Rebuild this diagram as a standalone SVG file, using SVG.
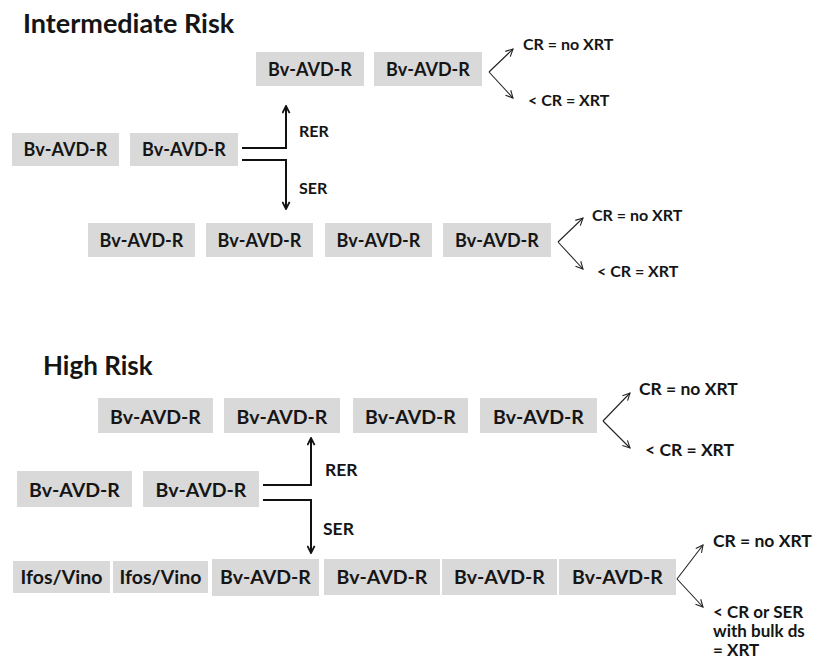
<svg xmlns="http://www.w3.org/2000/svg" width="815" height="666" viewBox="0 0 815 666">
<style>
text{font-family:Lato,"Open Sans","Liberation Sans",sans-serif;font-weight:bold;fill:#151515}
.box{fill:#d9d9d9}
.t{text-anchor:middle}
.mi{font-size:18px}
.hi{font-size:19.5px}
.lab{font-size:16px}
.labh{font-size:17.5px}
.ml{font-size:17px}
.title{font-size:27px}
.thin{fill:none;stroke:#222;stroke-width:1.1}
.thick{fill:none;stroke:#111;stroke-width:2}
</style>
<defs>
<marker id="open" viewBox="0 0 10 10" refX="9" refY="5" markerWidth="9" markerHeight="9" markerUnits="userSpaceOnUse" orient="auto">
<path d="M1,1 L9,5 L1,9" fill="none" stroke="#222" stroke-width="1.2"/>
</marker>
<marker id="bold" viewBox="0 0 10 10" refX="9" refY="5" markerWidth="9" markerHeight="9" markerUnits="userSpaceOnUse" orient="auto">
<path d="M1,1 L9,5 L1,9" fill="none" stroke="#111" stroke-width="2"/>
</marker>
</defs>

<text class="title" x="23" y="33">Intermediate Risk</text>
<text class="title" x="43" y="375" style="font-size:26px">High Risk</text>

<!-- Intermediate nodes -->
<g id="i-top1"><rect class="box" x="256" y="52" width="108" height="34"/><text class="t mi" x="310" y="76">Bv-AVD-R</text></g>
<g id="i-top2"><rect class="box" x="374" y="52" width="108" height="34"/><text class="t mi" x="428" y="76">Bv-AVD-R</text></g>
<g id="i-left1"><rect class="box" x="12" y="133" width="107" height="33"/><text class="t mi" x="65.5" y="156">Bv-AVD-R</text></g>
<g id="i-left2"><rect class="box" x="130" y="133" width="108" height="33"/><text class="t mi" x="184" y="156">Bv-AVD-R</text></g>
<g id="i-bot1"><rect class="box" x="88" y="223" width="107" height="34"/><text class="t mi" x="141.5" y="247">Bv-AVD-R</text></g>
<g id="i-bot2"><rect class="box" x="206" y="223" width="107" height="34"/><text class="t mi" x="259.5" y="247">Bv-AVD-R</text></g>
<g id="i-bot3"><rect class="box" x="325" y="223" width="107" height="34"/><text class="t mi" x="378.5" y="247">Bv-AVD-R</text></g>
<g id="i-bot4"><rect class="box" x="443" y="223" width="108" height="34"/><text class="t mi" x="497" y="247">Bv-AVD-R</text></g>
<g id="i-out1"><text class="lab" x="523" y="50">CR = no XRT</text></g>
<g id="i-out2"><text class="lab" x="528" y="106">&lt; CR = XRT</text></g>
<g id="i-out3"><text class="lab" x="592" y="221">CR = no XRT</text></g>
<g id="i-out4"><text class="lab" x="597" y="277">&lt; CR = XRT</text></g>

<!-- High risk nodes -->
<g id="h-top1"><rect class="box" x="98" y="398" width="115" height="35"/><text class="t hi" x="155.5" y="424">Bv-AVD-R</text></g>
<g id="h-top2"><rect class="box" x="224" y="398" width="116" height="35"/><text class="t hi" x="282" y="424">Bv-AVD-R</text></g>
<g id="h-top3"><rect class="box" x="353" y="398" width="115" height="35"/><text class="t hi" x="410.5" y="424">Bv-AVD-R</text></g>
<g id="h-top4"><rect class="box" x="480" y="398" width="117" height="35"/><text class="t hi" x="538.5" y="424">Bv-AVD-R</text></g>
<g id="h-left1"><rect class="box" x="17" y="471" width="115" height="36"/><text class="t hi" x="74.5" y="497">Bv-AVD-R</text></g>
<g id="h-left2"><rect class="box" x="143" y="471" width="116" height="36"/><text class="t hi" x="201" y="497">Bv-AVD-R</text></g>
<g id="h-bot1"><rect class="box" x="13" y="561" width="97" height="32"/><text class="t hi" x="61.5" y="584">Ifos/Vino</text></g>
<g id="h-bot2"><rect class="box" x="113" y="561" width="95" height="32"/><text class="t hi" x="160.5" y="584">Ifos/Vino</text></g>
<g id="h-bot3"><rect class="box" x="212" y="559" width="107" height="37"/><text class="t hi" x="265.5" y="584">Bv-AVD-R</text></g>
<g id="h-bot4"><rect class="box" x="324" y="559" width="116" height="36"/><text class="t hi" x="382" y="584">Bv-AVD-R</text></g>
<g id="h-bot5"><rect class="box" x="442" y="559" width="115" height="36"/><text class="t hi" x="499.5" y="584">Bv-AVD-R</text></g>
<g id="h-bot6"><rect class="box" x="559" y="559" width="117" height="36"/><text class="t hi" x="617.5" y="584">Bv-AVD-R</text></g>
<g id="h-out1"><text class="labh" x="639" y="395">CR = no XRT</text></g>
<g id="h-out2"><text class="labh" x="645" y="456">&lt; CR = XRT</text></g>
<g id="h-out3"><text class="labh" x="713" y="547">CR = no XRT</text></g>
<g id="h-out4"><text class="ml" x="713" y="618">&lt; CR or SER</text><text class="ml" x="713" y="637">with bulk ds</text><text class="ml" x="713" y="656">= XRT</text></g>

<g id="connectors">
<path class="thick" d="M242,148 H286 V106" marker-end="url(#bold)"/>
<path class="thick" d="M242,160 H286 V209" marker-end="url(#bold)"/>
<text class="lab" x="299" y="137">RER</text>
<text class="lab" x="299" y="194">SER</text>
<path class="thin" d="M489,72 L513,49" marker-end="url(#open)"/>
<path class="thin" d="M489,72 L513,98" marker-end="url(#open)"/>
<path class="thin" d="M558,242 L583,218" marker-end="url(#open)"/>
<path class="thin" d="M558,242 L583,269" marker-end="url(#open)"/>

<path class="thick" d="M263,485 H311 V438" marker-end="url(#bold)"/>
<path class="thick" d="M263,500 H311 V553" marker-end="url(#bold)"/>
<text class="labh" x="325" y="476">RER</text>
<text class="labh" x="323" y="535">SER</text>
<path class="thin" d="M603,421 L630,393" marker-end="url(#open)"/>
<path class="thin" d="M603,421 L630,448" marker-end="url(#open)"/>
<path class="thin" d="M677,579 L703,545" marker-end="url(#open)"/>
<path class="thin" d="M677,579 L703,607" marker-end="url(#open)"/>
</g>
</svg>
